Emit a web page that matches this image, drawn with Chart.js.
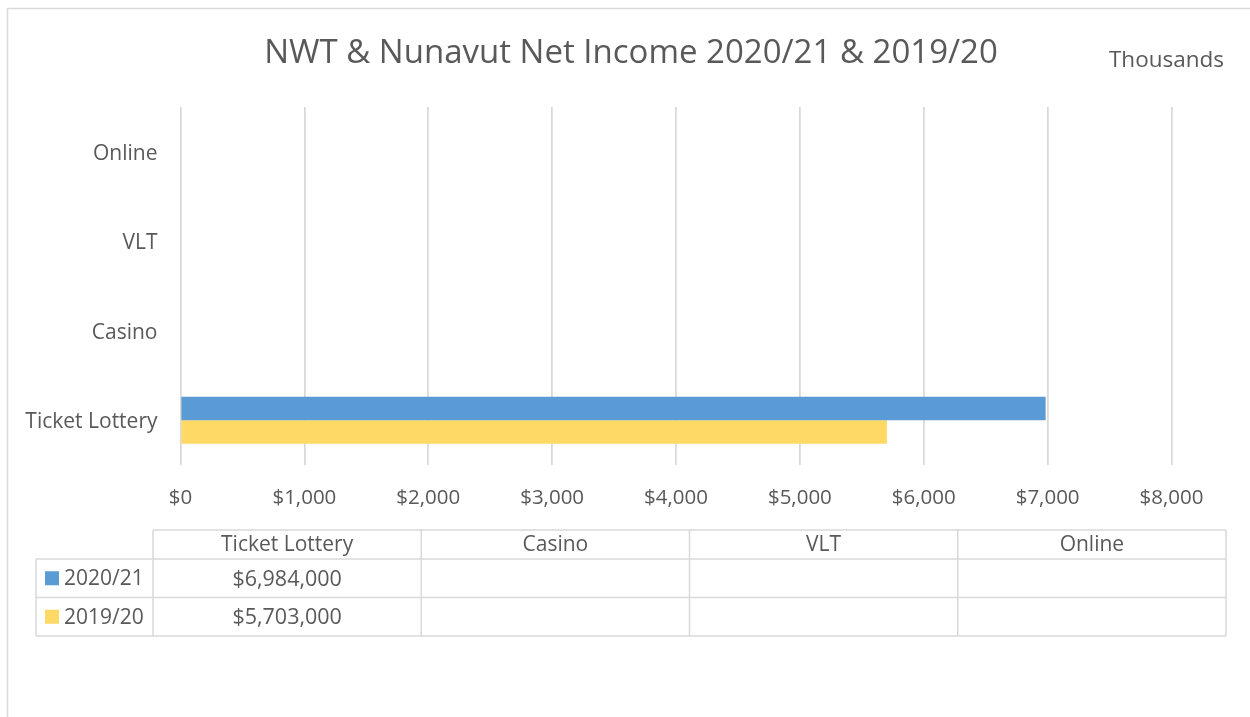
<!DOCTYPE html>
<html>
<head>
<meta charset="utf-8">
<title>NWT &amp; Nunavut Net Income</title>
<script src="https://cdn.jsdelivr.net/npm/chart.js@4.4.1/dist/chart.umd.min.js"></script>
<style>
  html, body { margin: 0; padding: 0; background: #fff; }
  #wrap { position: relative; width: 1250px; height: 717px; }
</style>
</head>
<body>
<div id="wrap"><canvas id="income"></canvas></div>
<script>
// ---- data (thousands of dollars) ----
const categories = ['Ticket Lottery', 'Casino', 'VLT', 'Online'];
const seriesNames = ['2020/21', '2019/20'];
const income2021 = [6984, null, null, null];
const income2020 = [5703, null, null, null];
const xTicks = [0, 1000, 2000, 3000, 4000, 5000, 6000, 7000, 8000];

const TITLE = 'NWT & Nunavut Net Income 2020/21 & 2019/20';
const UNITS = 'Thousands';

// ---- styles ----
const BLUE = '#5B9BD5';
const GOLD = '#FFD966';
const TEXT = '#595959';
const LINE = '#D9D9D9';
const FONT = '"Open Sans", "Noto Sans", sans-serif';

const money = (v) => '$' + v.toLocaleString('en-US');

// frame, title, unit label and the data table under the axis
const decorations = {
  id: 'decorations',
  afterDraw(chart) {
    const ctx = chart.ctx;
    const ds = chart.data.datasets;
    ctx.save();

    ctx.strokeStyle = LINE;
    ctx.lineWidth = 1.5;
    ctx.beginPath();
    ctx.moveTo(7.5, 717);
    ctx.lineTo(7.5, 8.5);
    ctx.lineTo(1250, 8.5);
    ctx.stroke();

    ctx.fillStyle = TEXT;
    ctx.textBaseline = 'middle';
    ctx.textAlign = 'center';
    ctx.font = '33px ' + FONT;
    ctx.fillText(TITLE, 631, 54);
    ctx.textAlign = 'right';
    ctx.font = '22.5px ' + FONT;
    ctx.fillText(UNITS, 1224, 61);

    // table grid
    const left = 36, keyRight = 153, right = 1226;
    const top = 530, headBottom = 559, rowH = 38.5;
    const colW = (right - keyRight) / categories.length;
    const bottom = headBottom + rowH * ds.length;

    ctx.beginPath();
    ctx.moveTo(keyRight, top); ctx.lineTo(right, top);
    for (let r = 0; r <= ds.length; r++) {
      const y = headBottom + r * rowH;
      ctx.moveTo(left, y); ctx.lineTo(right, y);
    }
    ctx.moveTo(left, headBottom); ctx.lineTo(left, bottom);
    for (let c = 0; c <= categories.length; c++) {
      const x = keyRight + c * colW;
      ctx.moveTo(x, top); ctx.lineTo(x, bottom);
    }
    ctx.stroke();

    ctx.font = '21px ' + FONT;
    ctx.textAlign = 'center';
    categories.forEach((name, c) => {
      ctx.fillText(name, keyRight + (c + 0.5) * colW, (top + headBottom) / 2 + 1);
    });

    ds.forEach((set, r) => {
      const cy = headBottom + (r + 0.5) * rowH;
      ctx.fillStyle = set.backgroundColor;
      ctx.fillRect(45, cy - 7, 14, 14);
      ctx.fillStyle = TEXT;
      ctx.textAlign = 'left';
      ctx.font = '21px ' + FONT;
      ctx.fillText(set.label, 64, cy + 1);
      ctx.textAlign = 'center';
      ctx.font = '21.5px ' + FONT;
      set.data.forEach((v, c) => {
        if (v == null) return;
        ctx.fillText(money(v * 1000), keyRight + (c + 0.5) * colW, cy + 1.5);
      });
    });

    ctx.restore();
  }
};

new Chart(document.getElementById('income'), {
  type: 'bar',
  data: {
    labels: categories,
    datasets: [
      { label: seriesNames[0], data: income2021, backgroundColor: BLUE },
      { label: seriesNames[1], data: income2020, backgroundColor: GOLD }
    ]
  },
  options: {
    indexAxis: 'y',
    responsive: true,
    maintainAspectRatio: false,
    animation: false,
    layout: { padding: { left: 0, top: 107, right: 78.5, bottom: 0 } },
    datasets: { bar: { categoryPercentage: 0.525, barPercentage: 1 } },
    plugins: {
      legend: { display: false },
      title: { display: false },
      tooltip: { enabled: false }
    },
    scales: {
      x: {
        min: 0,
        max: 8000,
        afterBuildTicks: (s) => { s.ticks = xTicks.map(v => ({ value: v })); },
        afterFit: (s) => { s.height = 717 - 465; },
        grid: { color: LINE, lineWidth: 1.75, drawTicks: false },
        border: { display: false },
        ticks: {
          color: TEXT,
          padding: 21,
          font: { family: FONT, size: 20.5 },
          callback: (v) => money(v)
        }
      },
      y: {
        reverse: true,
        afterFit: (s) => { s.width = 180.5; },
        grid: { display: false, drawTicks: false },
        border: { display: false },
        ticks: {
          color: TEXT,
          padding: 23,
          font: { family: FONT, size: 21 },
          labelOffset: 2
        }
      }
    }
  },
  plugins: [decorations]
});
</script>
</body>
</html>
